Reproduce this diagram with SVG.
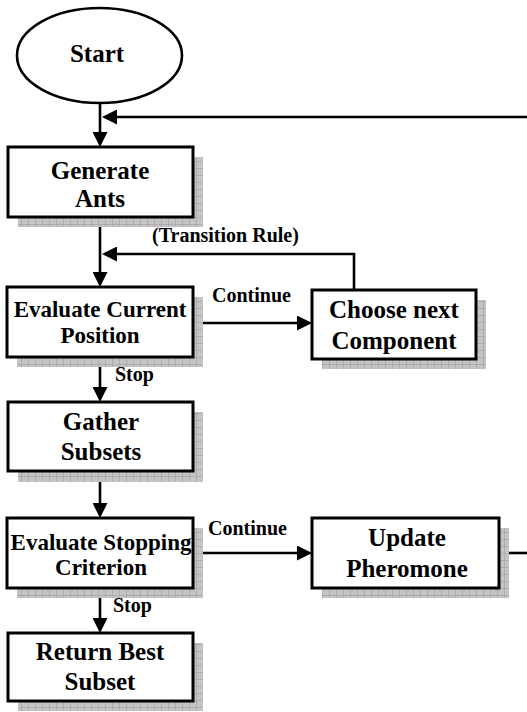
<svg xmlns="http://www.w3.org/2000/svg" width="527" height="712" viewBox="0 0 527 712">
<style>
.box{fill:#fff;stroke:#000;stroke-width:3}
.shadow{fill:url(#grid)}
.lbl{font-family:"Liberation Serif","Times New Roman",serif;font-weight:bold;font-size:25px;text-anchor:middle;fill:#000}
.sm{font-family:"Liberation Serif","Times New Roman",serif;font-weight:bold;font-size:20px;fill:#000}
.conn{fill:none;stroke:#000;stroke-width:2.6}
</style>
<defs>
<pattern id="grid" patternUnits="userSpaceOnUse" width="7" height="7">
<rect width="7" height="7" fill="#c4c4c4"/>
<path d="M0,0.4H7M0.4,0V7" stroke="#a4a4a4" stroke-width="0.8"/>
</pattern>
<marker id="arr" markerUnits="userSpaceOnUse" markerWidth="15" markerHeight="15" refX="12" refY="7.5" orient="auto">
<path d="M0,0L15,7.5L0,15z" fill="#000"/>
</marker>
</defs>
<rect width="527" height="712" fill="#fff"/>
<g id="connectors">
<line class="conn" x1="100" y1="103" x2="100" y2="144" marker-end="url(#arr)"/>
<line class="conn" x1="527" y1="117" x2="105" y2="117" marker-end="url(#arr)"/>
<line class="conn" x1="100" y1="217" x2="100" y2="284" marker-end="url(#arr)"/>
<path class="conn" d="M354,290V254H105" marker-end="url(#arr)"/>
<line class="conn" x1="193" y1="323" x2="309" y2="323" marker-end="url(#arr)"/>
<line class="conn" x1="100" y1="357" x2="100" y2="399" marker-end="url(#arr)"/>
<line class="conn" x1="100" y1="471" x2="100" y2="515" marker-end="url(#arr)"/>
<line class="conn" x1="193" y1="553" x2="309" y2="553" marker-end="url(#arr)"/>
<line class="conn" x1="499" y1="553" x2="527" y2="553"/>
<line class="conn" x1="100" y1="588" x2="100" y2="630" marker-end="url(#arr)"/>
<text class="sm" x="152" y="242">(Transition Rule)</text>
<text class="sm" x="212" y="302">Continue</text>
<text class="sm" x="115" y="381">Stop</text>
<text class="sm" x="208" y="535">Continue</text>
<text class="sm" x="113" y="612">Stop</text>
</g>
<g id="start">
<ellipse cx="99.5" cy="55.5" rx="82.5" ry="47.5" fill="#fff" stroke="#000" stroke-width="2.6"/>
<text class="lbl" x="97" y="62">Start</text>
</g>
<g id="generate">
<rect class="shadow" x="18" y="157" width="185" height="70"/>
<rect class="box" x="8" y="147" width="185" height="70"/>
<text class="lbl" x="100" y="179">Generate</text>
<text class="lbl" x="100" y="207">Ants</text>
</g>
<g id="evalcurrent">
<rect class="shadow" x="17" y="297" width="186" height="70"/>
<rect class="box" x="7" y="287" width="186" height="70"/>
<text class="lbl" x="100" y="317" style="font-size:23px">Evaluate Current</text>
<text class="lbl" x="100" y="343" style="font-size:23px">Position</text>
</g>
<g id="choose">
<rect class="shadow" x="322" y="300" width="164" height="69"/>
<rect class="box" x="312" y="290" width="164" height="69"/>
<text class="lbl" x="394" y="318">Choose next</text>
<text class="lbl" x="394" y="349">Component</text>
</g>
<g id="gather">
<rect class="shadow" x="18" y="412" width="185" height="70"/>
<rect class="box" x="8" y="402" width="185" height="69"/>
<text class="lbl" x="101" y="430">Gather</text>
<text class="lbl" x="101" y="460">Subsets</text>
</g>
<g id="evalstop">
<rect class="shadow" x="17" y="528" width="186" height="70"/>
<rect class="box" x="7" y="518" width="186" height="70"/>
<text class="lbl" x="101" y="550" style="font-size:23px">Evaluate Stopping</text>
<text class="lbl" x="101" y="575" style="font-size:23px">Criterion</text>
</g>
<g id="update">
<rect class="shadow" x="322" y="528" width="187" height="70"/>
<rect class="box" x="312" y="518" width="187" height="70"/>
<text class="lbl" x="407" y="546">Update</text>
<text class="lbl" x="407" y="577">Pheromone</text>
</g>
<g id="returnbest">
<rect class="shadow" x="18" y="643" width="185" height="68"/>
<rect class="box" x="8" y="633" width="185" height="68"/>
<text class="lbl" x="100" y="660">Return Best</text>
<text class="lbl" x="100" y="690">Subset</text>
</g>
</svg>
